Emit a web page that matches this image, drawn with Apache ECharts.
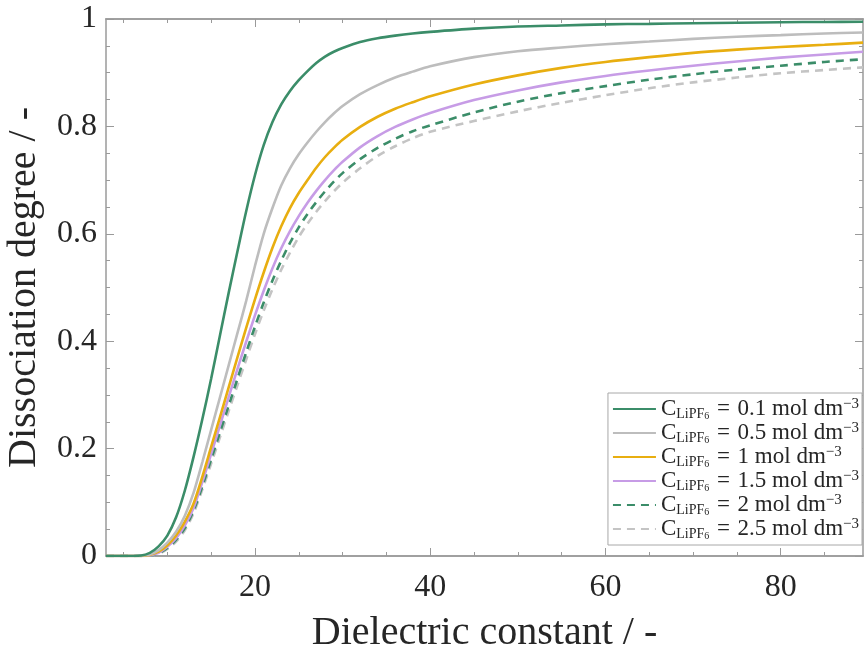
<!DOCTYPE html>
<html><head><meta charset="utf-8">
<script src="https://cdn.jsdelivr.net/npm/echarts@6/dist/echarts.min.js"></script>
<style>html,body{margin:0;padding:0;background:#fff}#c{width:865px;height:651px}</style>
</head><body><div id="c"></div>
<script>
const xValues = [3,5,7,8,9,10,11,12,13,14,15,16,17,18,19,20,21,22,23,24,25,26,27,28,29,30,32,34,36,38,40,45,50,55,60,65,70,75,80,85,89.4];
const conc01 = [0,0,0.001,0.006,0.018,0.038,0.072,0.122,0.185,0.255,0.33,0.41,0.49,0.567,0.642,0.709,0.765,0.808,0.841,0.866,0.886,0.903,0.918,0.930,0.939,0.946,0.957,0.964,0.969,0.973,0.976,0.982,0.986,0.988,0.990,0.991,0.992,0.993,0.994,0.9945,0.995];
const conc05 = [0,0,0.001,0.003,0.011,0.025,0.045,0.075,0.118,0.175,0.235,0.295,0.355,0.415,0.475,0.54,0.60,0.648,0.690,0.722,0.748,0.770,0.790,0.808,0.824,0.838,0.860,0.877,0.891,0.902,0.912,0.929,0.940,0.947,0.953,0.958,0.963,0.967,0.970,0.973,0.975];
const conc1 = [0,0,0,0.002,0.008,0.02,0.038,0.064,0.098,0.148,0.203,0.258,0.314,0.370,0.425,0.478,0.528,0.574,0.614,0.648,0.676,0.700,0.723,0.743,0.760,0.775,0.799,0.818,0.833,0.845,0.856,0.878,0.895,0.909,0.920,0.929,0.937,0.943,0.948,0.952,0.956];
const conc15 = [0,0,0,0.001,0.006,0.017,0.033,0.057,0.09,0.138,0.19,0.243,0.296,0.348,0.399,0.448,0.494,0.536,0.573,0.605,0.633,0.658,0.680,0.700,0.718,0.734,0.761,0.782,0.799,0.813,0.825,0.849,0.867,0.882,0.894,0.904,0.913,0.921,0.928,0.934,0.939];
const conc2 = [0,0,0,0.001,0.005,0.015,0.03,0.052,0.085,0.13,0.18,0.23,0.28,0.33,0.379,0.427,0.472,0.513,0.550,0.583,0.612,0.637,0.659,0.679,0.697,0.713,0.739,0.760,0.777,0.791,0.802,0.826,0.846,0.862,0.875,0.887,0.897,0.906,0.913,0.920,0.925];
const conc25 = [0,0,0,0.001,0.004,0.013,0.027,0.048,0.08,0.124,0.172,0.221,0.27,0.318,0.366,0.413,0.457,0.497,0.533,0.565,0.594,0.619,0.641,0.661,0.679,0.695,0.722,0.745,0.763,0.778,0.790,0.810,0.828,0.844,0.858,0.871,0.882,0.891,0.899,0.905,0.910];
const seriesNames = ['0.1','0.5','1','1.5','2','2.5'];
const xTickLabels = [20,40,60,80];
const xMinorTicks = [5,10,15,25,30,35,45,50,55,65,70,75,85];

const FONT = 'Liberation Serif';
const TXT = '#262626';
const AX = '#9a9a9a';
const XMIN = 3, XMAX = 89.4;
const allData = [conc01, conc05, conc1, conc15, conc2, conc25];
const colors = ['#3b8d69','#bdbdbd','#e8ae10','#c79ce6','#3b8d69','#c4c4c4'];
const dashed = [false,false,false,false,true,true];

function xAxisDef(pos, major){
  return {
    type:'value', position:pos, min:XMIN, max:XMAX,
    axisLine:{show:true, onZero:false, lineStyle:{color:AX, width:1.5}},
    axisTick:{show:true, inside:true, length: major?8:4, customValues: major?xTickLabels:xMinorTicks, lineStyle:{color:AX, width:1}},
    axisLabel:{show: major && pos==='bottom', customValues:xTickLabels, fontFamily:FONT, fontSize:32, color:TXT, margin:16},
    splitLine:{show:false},
    name: (major && pos==='bottom') ? 'Dielectric constant / -' : '',
    nameLocation:'middle', nameGap:57,
    nameTextStyle:{fontFamily:FONT, fontSize:40, color:TXT}
  };
}
function yAxisDef(pos){
  const left = pos==='left';
  return {
    type:'value', position:pos, min:0, max:1, interval:0.2,
    axisLine:{show:true, onZero:false, lineStyle:{color:AX, width:1.5}},
    axisTick:{show:true, inside:true, length:8, lineStyle:{color:AX, width:1}},
    minorTick:{show:true, splitNumber:4, length:4, lineStyle:{color:AX, width:1}},
    axisLabel:{show:left, fontFamily:FONT, fontSize:32, color:TXT, margin:9},
    splitLine:{show:false}, minorSplitLine:{show:false},
    name: left ? 'Dissociation degree / -' : '',
    nameLocation:'middle', nameGap:62,
    nameTextStyle:{fontFamily:FONT, fontSize:40, color:TXT}
  };
}

const series = seriesNames.map((n,k)=>({
  name:n, type:'line', xAxisIndex:0, yAxisIndex:0,
  data: xValues.map((x,i)=>[x, allData[k][i]]),
  symbol:'none', smooth:0.3,
  lineStyle:{color:colors[k], width:2.6, type: dashed[k]?[8,6]:'solid'},
  itemStyle:{color:colors[k]},
  z: 10-k
}));

const rich = {
  c:{fontFamily:FONT, fontSize:23, color:TXT, lineHeight:24},
  s:{fontFamily:FONT, fontSize:14, color:TXT, lineHeight:12, verticalAlign:'bottom'},
  s6:{fontFamily:FONT, fontSize:10, color:TXT, lineHeight:8, verticalAlign:'bottom'},
  p:{fontFamily:FONT, fontSize:15, color:TXT, lineHeight:13, verticalAlign:'top'}
};

const chart = echarts.init(document.getElementById('c'), null, {renderer:'canvas'});
chart.setOption({
  animation:false,
  backgroundColor:'#fff',
  grid:{left:106, right:2, top:19, bottom:95, containLabel:false, outerBoundsMode:'none'},
  xAxis:[xAxisDef('bottom',true), xAxisDef('top',true), xAxisDef('top',false), xAxisDef('bottom',false)],
  yAxis:[yAxisDef('left'), yAxisDef('right')],
  legend:{
    orient:'vertical', right:3, bottom:106,
    backgroundColor:'#fff', borderColor:'#a8a8a8', borderWidth:1,
    padding:[4,3,4,4], itemGap:0, itemWidth:43, itemHeight:3,
    itemStyle:{opacity:0},
    textStyle:{fontFamily:FONT, fontSize:23, color:TXT, rich:rich},
    formatter: n => '{c|C}{s|LiPF}{s6|6}{c|\u2004=\u2004' + n + ' mol dm}{p|\u22123}'
  },
  series: series
});
</script></body></html>
